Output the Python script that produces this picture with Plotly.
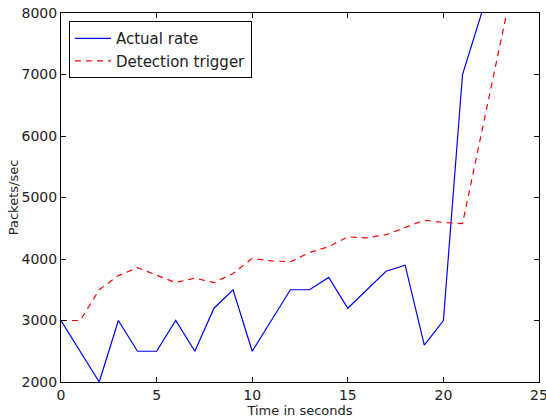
import plotly.graph_objects as go

time_s = list(range(0, 23))
actual_rate = [3000, 2500, 2000, 3000, 2500, 2500, 3000, 2500, 3200, 3500,
               2500, 3000, 3500, 3500, 3700, 3200, 3500, 3800, 3900, 2600,
               3000, 7000, 8000]

trigger_time = list(range(0, 25))
detection_trigger = [3000, 3000, 3500, 3730, 3860, 3740, 3615, 3690, 3615, 3765,
                     4010, 3970, 3955, 4105, 4200, 4360, 4345, 4395, 4515, 4630,
                     4595, 4575, 6060, 7540, 9020]

x_ticks = [0, 5, 10, 15, 20, 25]
y_ticks = [2000, 3000, 4000, 5000, 6000, 7000, 8000]

FONT = "DejaVu Sans"

fig = go.Figure()
fig.add_trace(go.Scatter(x=time_s, y=actual_rate, mode="lines", name="Actual rate",
                         line=dict(color="#0000ff", width=1.2)))
fig.add_trace(go.Scatter(x=trigger_time, y=detection_trigger, mode="lines",
                         name="Detection trigger",
                         line=dict(color="#ff0000", width=1.2, dash="6px,5px")))

axis_common = dict(showgrid=False, zeroline=False, showline=True, linecolor="black",
                   linewidth=1, mirror="ticks", ticks="inside", ticklen=5,
                   tickcolor="black", tickwidth=1, automargin=True,
                   ticklabeloverflow="allow",
                   tickfont=dict(family=FONT, size=14, color="#222222"))

fig.update_xaxes(range=[0, 25], tickvals=x_ticks, ticktext=[str(v) for v in x_ticks],
                 title=dict(text="Time in seconds", font=dict(family=FONT, size=13, color="#222222"),
                            standoff=2),
                 **axis_common)
fig.update_yaxes(range=[2000, 8000], tickvals=y_ticks, ticktext=[str(v) for v in y_ticks],
                 title=dict(text="Packets/sec", font=dict(family=FONT, size=13, color="#222222"),
                            standoff=0),
                 **axis_common)

fig.update_layout(
    width=546, height=418,
    margin=dict(l=61, r=7, t=13, b=36, autoexpand=False),
    plot_bgcolor="white", paper_bgcolor="white",
    font=dict(family=FONT, color="black"),
    showlegend=True,
    legend=dict(x=0.0167, y=0.978, xanchor="left", yanchor="top",
                bgcolor="white", bordercolor="black", borderwidth=1,
                itemwidth=36,
                font=dict(family=FONT, size=15, color="#222222")),
)

# remove the default page margin so the figure fills the 546x418 window from its corner
fig.write_html("out.html", config={"displayModeBar": False},
               post_script="document.body.style.margin='0px';")
